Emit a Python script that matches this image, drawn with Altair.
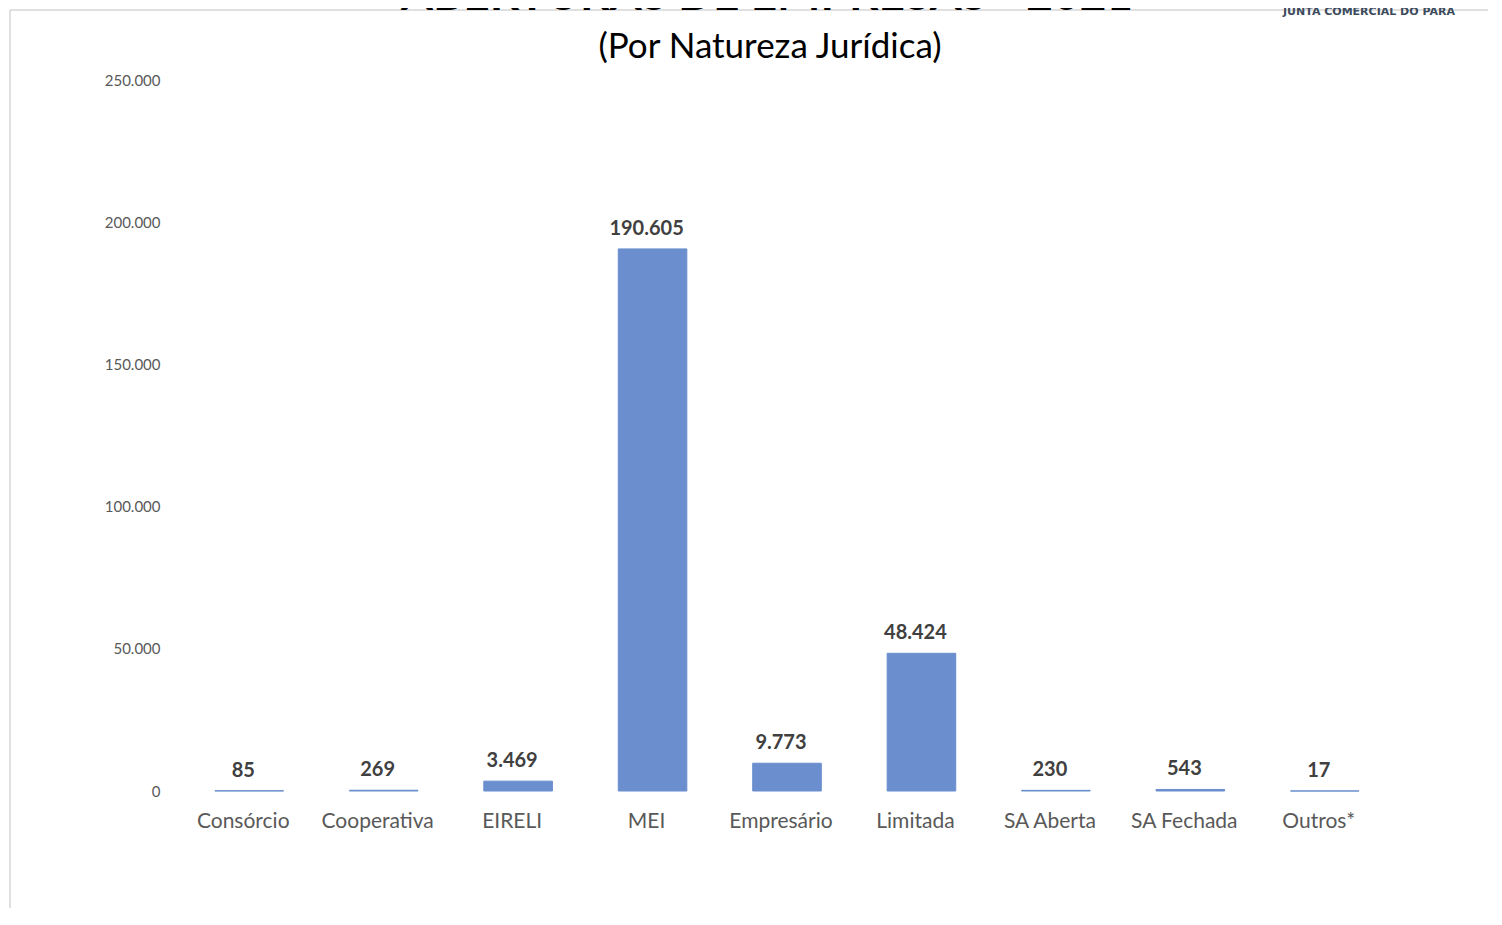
import altair as alt
import pandas as pd

categories = ["Consórcio", "Cooperativa", "EIRELI", "MEI", "Empresário",
              "Limitada", "SA Aberta", "SA Fechada", "Outros*"]
values = [85, 269, 3469, 190605, 9773, 48424, 230, 543, 17]
y_ticks = [0, 50000, 100000, 150000, 200000, 250000]

title_text = "ABERTURAS DE EMPRESAS - 2021"
subtitle_text = "(Por Natureza Jurídica)"
brand_text = "JUNTA COMERCIAL DO PARÁ"

df = pd.DataFrame({"cat": categories, "val": values})

FONT = "Lato"
BAR = "#6A8ECE"
LOCALE = {"decimal": ",", "thousands": ".", "grouping": [3], "currency": ["R$", ""]}

x_enc = alt.X(
    "cat:N", sort=categories, title=None,
    scale=alt.Scale(paddingInner=0.49, paddingOuter=0.245),
    axis=alt.Axis(labelAngle=0, labelFontSize=21, labelColor="#595959",
                  labelPadding=19, ticks=False, domain=False, labelFont=FONT),
)
y_enc = alt.Y(
    "val:Q", title=None,
    scale=alt.Scale(domain=[0, 250000], nice=False),
    axis=alt.Axis(values=y_ticks, format=",d", grid=False, ticks=False,
                  domain=False, labelFontSize=15, labelColor="#595959",
                  labelPadding=16, labelFont=FONT),
)

bars = alt.Chart(df).mark_bar(
    color=BAR, stroke=BAR, strokeWidth=1, xOffset=6
).encode(x=x_enc, y=y_enc)

labels = alt.Chart(df).mark_text(
    baseline="alphabetic", dy=-14, fontSize=20, fontWeight="bold",
    color="#404040", font=FONT
).encode(
    x=alt.X("cat:N", sort=categories),
    y="val:Q",
    text=alt.Text("val:Q", format=",d"),
)

one = pd.DataFrame({"a": [0]})
hline = alt.Chart(one).mark_rule(color="#d6d6d6", strokeWidth=1.5).encode(
    x=alt.value(-166), x2=alt.value(1330), y=alt.value(-70)
)
vline = alt.Chart(one).mark_rule(color="#d6d6d6", strokeWidth=1.5).encode(
    x=alt.value(-166), y=alt.value(-70), y2=alt.value(845)
)
brand = alt.Chart(one).mark_text(
    text=brand_text, align="left", baseline="middle", fontSize=11,
    color="#3d4b5c", fontWeight="bold", font="DejaVu Sans"
).encode(x=alt.value(1107), y=alt.value(-68))

title = alt.Chart(one).mark_text(
    text=title_text, align="center", baseline="alphabetic", fontSize=46,
    fontWeight="bold", color="black", font=FONT
).encode(x=alt.value(591), y=alt.value(-70))

subtitle = alt.Chart(one).mark_text(
    text=subtitle_text, align="center", baseline="alphabetic", fontSize=35,
    color="black", font=FONT
).encode(x=alt.value(594), y=alt.value(-22))

chart = alt.layer(hline, vline, brand, title, subtitle, bars, labels).properties(
    width=1210,
    height=711,
    padding={"left": 168, "top": 72, "right": 102, "bottom": 117},
    autosize="none",
    background="white",
).configure(
    locale={"number": LOCALE}
).configure_view(stroke=None)

chart.save("out.html", embed_options={"renderer": "svg", "actions": False,
                                      "formatLocale": LOCALE})
